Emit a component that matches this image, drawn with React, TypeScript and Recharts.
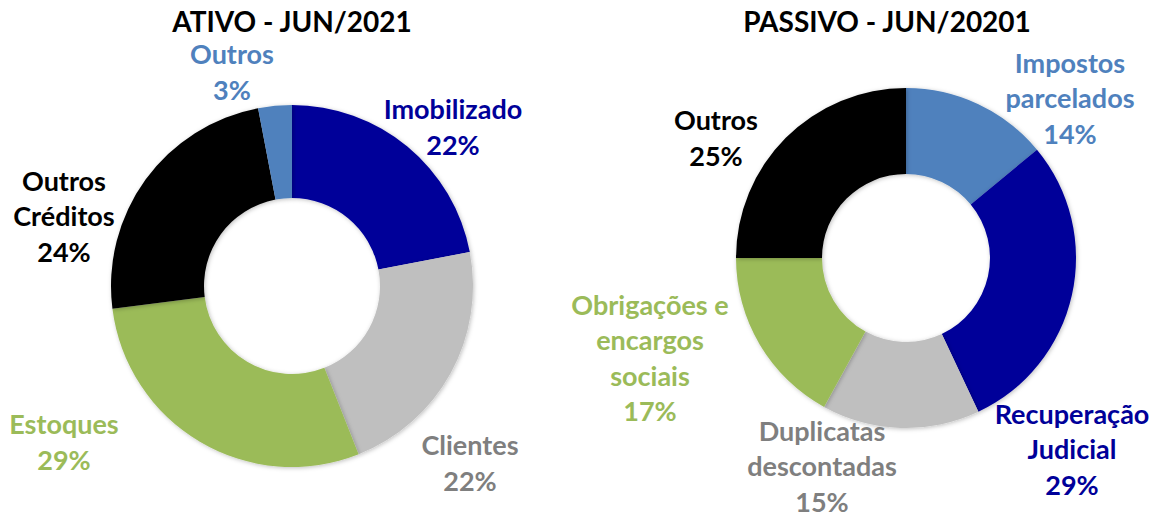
import React from 'react';
import { PieChart, Pie, Cell } from 'recharts';

// Ativo - jun/2021
const ativoNames = ['Imobilizado', 'Clientes', 'Estoques', 'Outros\nCréditos', 'Outros'];
const ativoValues = [22, 22, 29, 24, 3];
const ativoColors = ['#000099', '#BFBFBF', '#9BBB59', '#000000', '#4F81BD'];
const ativoTextColors = ['#000099', '#7F7F7F', '#9BBB59', '#000000', '#4F81BD'];
// label block centre, offset from donut centre
const ativoLabelPos = [
  [161, -160],
  [178, 176],
  [-228, 155],
  [-228, -71],
  [-60, -215],
];

// Passivo - jun/2021
const passivoNames = [
  'Impostos\nparcelados',
  'Recuperação\nJudicial',
  'Duplicatas\ndescontadas',
  'Obrigações e\nencargos\nsociais',
  'Outros',
];
const passivoValues = [14, 29, 15, 17, 25];
const passivoColors = ['#4F81BD', '#000099', '#BFBFBF', '#9BBB59', '#000000'];
const passivoTextColors = ['#4F81BD', '#000099', '#7F7F7F', '#9BBB59', '#000000'];
const passivoLabelPos = [
  [164, -161],
  [166, 190],
  [-84, 207],
  [-256, 99],
  [-190, -121],
];

const FONT = 'Lato, "Open Sans", sans-serif';
const LINE_H = 35.5;

const makeLabel = (pos: number[][], textColors: string[]) => (props: any) => {
  const { cx, cy, index, name, value } = props;
  const lines = [...String(name).split('\n'), `${value}%`];
  const x = cx + pos[index][0];
  const y0 = cy + pos[index][1] - ((lines.length - 1) * LINE_H) / 2;
  return (
    <text
      key={`lbl-${index}`}
      x={x}
      y={y0}
      textAnchor="middle"
      dominantBaseline="central"
      fill={textColors[index]}
      fontFamily={FONT}
      fontWeight="bold"
      fontSize={27}
    >
      {lines.map((l, i) => (
        <tspan key={i} x={x} y={y0 + i * LINE_H}>
          {l}
        </tspan>
      ))}
    </text>
  );
};

const ativoData = ativoNames.map((name, i) => ({ name, value: ativoValues[i] }));
const passivoData = passivoNames.map((name, i) => ({ name, value: passivoValues[i] }));

export default function App() {
  return (
    <div style={{ position: 'absolute', left: 0, top: 0, background: '#fff' }}>
      <PieChart width={1162} height={513} margin={{ top: 0, right: 0, bottom: 0, left: 0 }}>
        <defs>
          <filter id="shadow" x="-10%" y="-10%" width="120%" height="120%">
            <feDropShadow dx="1" dy="1" stdDeviation="2" floodColor="#000" floodOpacity="0.25" />
          </filter>
        </defs>
        <text x={292} y={21} textAnchor="middle" dominantBaseline="central" fontFamily={FONT} fontWeight="bold" fontSize={28} fill="#000">
          ATIVO - JUN/2021
        </text>
        <text x={887} y={21} textAnchor="middle" dominantBaseline="central" fontFamily={FONT} fontWeight="bold" fontSize={28} fill="#000">
          PASSIVO - JUN/20201
        </text>
        <Pie
          data={ativoData}
          dataKey="value"
          nameKey="name"
          cx={292}
          cy={286}
          innerRadius={88}
          outerRadius={181}
          startAngle={90}
          endAngle={-270}
          stroke="none"
          isAnimationActive={false}
          labelLine={false}
          label={makeLabel(ativoLabelPos, ativoTextColors)}
          style={{ filter: 'url(#shadow)' }}
        >
          {ativoData.map((_, i) => (
            <Cell key={i} fill={ativoColors[i]} />
          ))}
        </Pie>
        <Pie
          data={passivoData}
          dataKey="value"
          nameKey="name"
          cx={906}
          cy={258}
          innerRadius={84}
          outerRadius={170}
          startAngle={90}
          endAngle={-270}
          stroke="none"
          isAnimationActive={false}
          labelLine={false}
          label={makeLabel(passivoLabelPos, passivoTextColors)}
          style={{ filter: 'url(#shadow)' }}
        >
          {passivoData.map((_, i) => (
            <Cell key={i} fill={passivoColors[i]} />
          ))}
        </Pie>
      </PieChart>
    </div>
  );
}
